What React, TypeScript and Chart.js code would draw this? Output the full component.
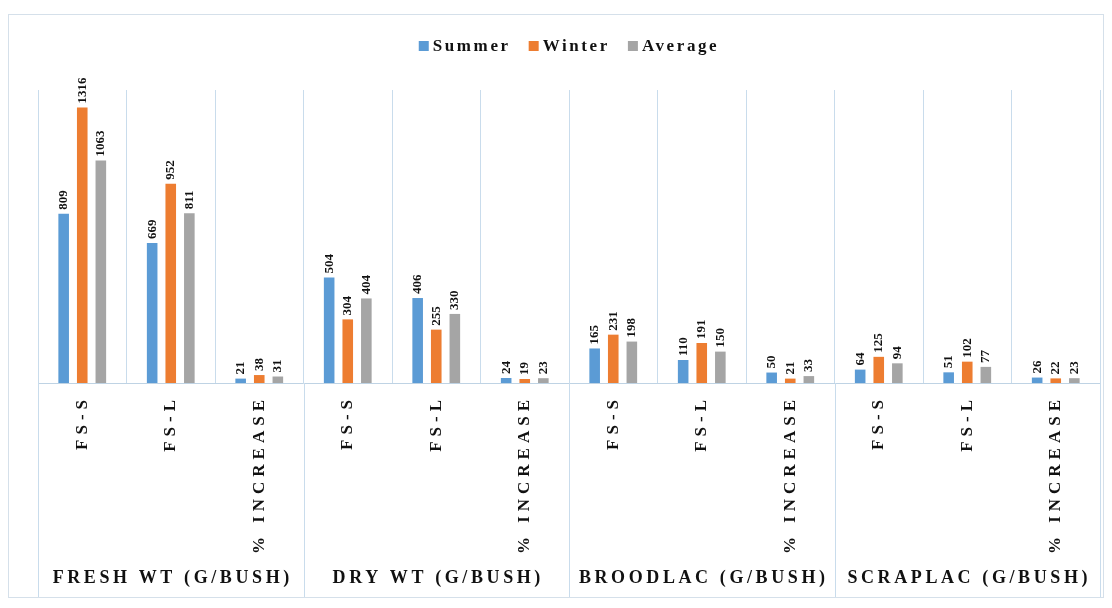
import React, { useEffect, useRef } from "react";
import { Chart, registerables } from "chart.js";

Chart.register(...registerables);

// Category labels along the x axis (three per measurement group)
const categories = [
  "FS-S", "FS-L", "% INCREASE",
  "FS-S", "FS-L", "% INCREASE",
  "FS-S", "FS-L", "% INCREASE",
  "FS-S", "FS-L", "% INCREASE",
];

// Measurement groups shown under the category labels
const groups = [
  "FRESH WT (G/BUSH)",
  "DRY WT (G/BUSH)",
  "BROODLAC (G/BUSH)",
  "SCRAPLAC (G/BUSH)",
];

const seriesNames = ["Summer", "Winter", "Average"];
const summer = [809, 669, 21, 504, 406, 24, 165, 110, 50, 64, 51, 26];
const winter = [1316, 952, 38, 304, 255, 19, 231, 191, 21, 125, 102, 22];
const average = [1063, 811, 31, 404, 330, 23, 198, 150, 33, 94, 77, 23];

const colors = ["#5B9BD5", "#ED7D31", "#A5A5A5"];
const SERIF = "'Liberation Serif', 'Times New Roman', 'DejaVu Serif', serif";
const GRID = "#c9dcec";

const decorPlugin = {
  id: "decor",
  afterDraw(chart: any) {
    const ctx: CanvasRenderingContext2D = chart.ctx;
    const area = chart.chartArea;
    const xs = chart.scales.x;
    const step = xs.width / categories.length;

    // outer frame
    ctx.save();
    ctx.strokeStyle = "#d5e0ea";
    ctx.lineWidth = 1;
    ctx.strokeRect(0.5, 0.5, chart.width - 1, chart.height - 1);
    ctx.restore();

    // group divider lines running below the axis
    ctx.save();
    ctx.strokeStyle = GRID;
    ctx.lineWidth = 1;
    for (let g = 0; g <= groups.length; g++) {
      const bx = Math.round(xs.left + g * 3 * step) + 0.5;
      ctx.beginPath();
      ctx.moveTo(bx, area.bottom);
      ctx.lineTo(bx, chart.height - 1);
      ctx.stroke();
    }
    ctx.restore();

    // value labels above bars
    chart.data.datasets.forEach((ds: any, i: number) => {
      const meta = chart.getDatasetMeta(i);
      meta.data.forEach((bar: any, j: number) => {
        ctx.save();
        ctx.translate(bar.x, bar.y - 4);
        ctx.rotate(-Math.PI / 2);
        ctx.font = `bold 13px ${SERIF}`;
        ctx.fillStyle = "#111";
        ctx.textAlign = "left";
        ctx.textBaseline = "middle";
        ctx.fillText(String(ds.data[j]), 0, 0);
        ctx.restore();
      });
    });

    // category labels (vertical)
    categories.forEach((c, i) => {
      const px = xs.getPixelForValue(i);
      ctx.save();
      ctx.translate(px, area.bottom + 17);
      ctx.rotate(-Math.PI / 2);
      ctx.font = `bold 17px ${SERIF}`;
      (ctx as any).letterSpacing = "5px";
      ctx.fillStyle = "#111";
      ctx.textAlign = "right";
      ctx.textBaseline = "middle";
      ctx.fillText(c, 5, 0);
      ctx.restore();
    });

    // group labels
    groups.forEach((g, k) => {
      const cx = (xs.getPixelForValue(k * 3) + xs.getPixelForValue(k * 3 + 2)) / 2;
      ctx.save();
      ctx.font = `bold 18px ${SERIF}`;
      (ctx as any).letterSpacing = "3.6px";
      ctx.fillStyle = "#111";
      ctx.textAlign = "center";
      ctx.textBaseline = "middle";
      ctx.fillText(g, cx + 2, area.bottom + 195);
      ctx.restore();
    });

    // legend
    ctx.save();
    ctx.font = `bold 17px ${SERIF}`;
    (ctx as any).letterSpacing = "2.6px";
    const box = 10;
    const gapBox = 4;
    const gapItem = 18;
    const widths = chart.data.datasets.map((d: any) => ctx.measureText(d.label).width);
    let total = 0;
    widths.forEach((w: number, i: number) => {
      total += box + gapBox + w + (i < widths.length - 1 ? gapItem : 0);
    });
    let lx = (area.left + area.right) / 2 - total / 2;
    const ly = 32;
    chart.data.datasets.forEach((d: any, i: number) => {
      ctx.fillStyle = d.backgroundColor;
      ctx.fillRect(lx, ly - box / 2, box, box);
      lx += box + gapBox;
      ctx.fillStyle = "#111";
      ctx.textAlign = "left";
      ctx.textBaseline = "middle";
      ctx.fillText(d.label, lx, ly + 1);
      lx += widths[i] + gapItem;
    });
    ctx.restore();
  },
};

export default function App() {
  const ref = useRef<HTMLCanvasElement | null>(null);

  useEffect(() => {
    if (!ref.current) return;
    const chart = new Chart(ref.current, {
      type: "bar",
      data: {
        labels: categories,
        datasets: [summer, winter, average].map((d, i) => ({
          label: seriesNames[i],
          data: d,
          backgroundColor: colors[i],
          borderWidth: 0,
          categoryPercentage: 0.63,
          barPercentage: 0.57,
        })),
      },
      options: {
        animation: false,
        responsive: false,
        maintainAspectRatio: false,
        layout: { padding: { left: 30, right: 4, top: 76, bottom: 215 } },
        plugins: {
          legend: { display: false },
          tooltip: { enabled: false },
        },
        scales: {
          x: {
            ticks: { display: false },
            grid: {
              display: true,
              offset: true,
              color: GRID,
              drawTicks: false,
              lineWidth: 1,
            },
            border: { display: true, color: "#bfd3e4" },
          },
          y: {
            display: false,
            min: 0,
            max: 1400,
          },
        },
      },
      plugins: [decorPlugin],
    });
    return () => chart.destroy();
  }, []);

  return (
    <div style={{ width: 1096, height: 584, marginTop: 6 }}>
      <canvas ref={ref} width={1096} height={584} style={{ display: "block" }} />
    </div>
  );
}
